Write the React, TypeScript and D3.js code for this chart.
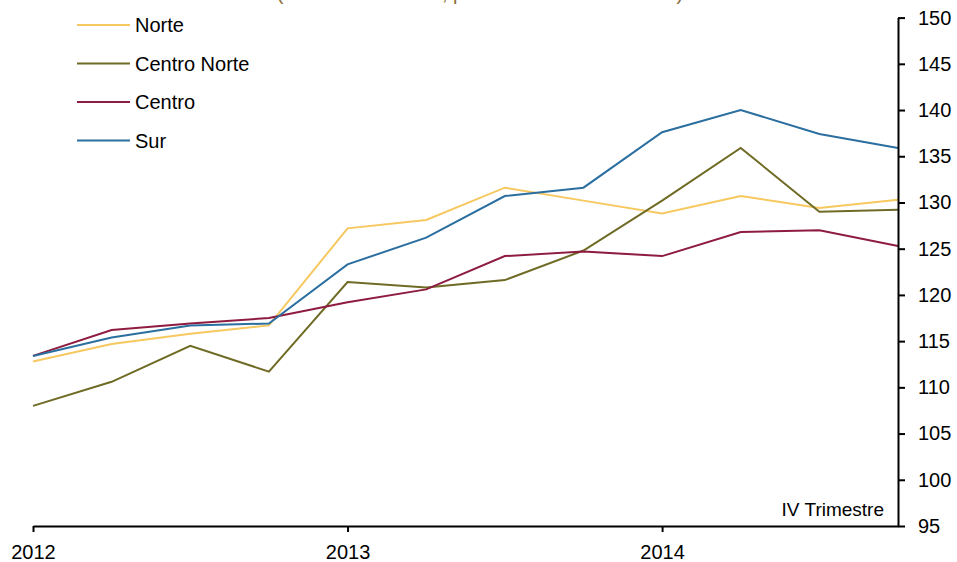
import { useEffect, useRef } from 'react';
import * as d3 from 'd3';

// quarters 2012 Q1 .. 2014 Q4
const quarters = d3.range(12);
const yearTicks = [0, 4, 8];
const yearLabels = ['2012', '2013', '2014'];
const yTicks = d3.range(95, 151, 5);

const norte = [112.8, 114.7, 115.8, 116.7, 127.2, 128.1, 131.6, 130.2, 128.8, 130.7, 129.4, 130.3];
const centroNorte = [108.0, 110.6, 114.5, 111.7, 121.4, 120.8, 121.6, 124.8, 130.2, 135.9, 129.0, 129.2];
const centro = [113.4, 116.2, 116.9, 117.5, 119.2, 120.6, 124.2, 124.7, 124.2, 126.8, 127.0, 125.3];
const sur = [113.4, 115.4, 116.7, 116.9, 123.3, 126.2, 130.7, 131.6, 137.6, 140.0, 137.4, 135.9];

const seriesNames = ['Norte', 'Centro Norte', 'Centro', 'Sur'];
const seriesColors = ['#F6C85F', '#6F6B25', '#8E1B40', '#2A6F9F'];

const FONT = 'Liberation Sans, Arial, sans-serif';

export default function App() {
  const svgRef = useRef<SVGSVGElement>(null);

  useEffect(() => {
    if (!svgRef.current) return;
    const svg = d3.select(svgRef.current);
    svg.selectAll('*').remove();

    const width = 957;
    const height = 562;

    const x = d3.scaleLinear().domain([0, 11]).range([33, 898]);
    const y = d3.scaleLinear().domain([95, 150]).range([526, 17.6]);

    // title (cut off at the top, only descenders show)
    svg.append('text')
      .attr('x', 480)
      .attr('y', -0.5)
      .attr('text-anchor', 'middle')
      .attr('font-family', FONT)
      .attr('font-size', 20)
      .attr('fill', '#8C6D3E')
      .text('(Índices 2005=100, promedio móvil trimestral)');

    const allSeries = [norte, centroNorte, centro, sur];

    const line = d3.line<number>()
      .x((_, i) => x(quarters[i]))
      .y(d => y(d));

    svg.append('g')
      .selectAll('path')
      .data(allSeries)
      .enter()
      .append('path')
      .attr('d', d => line(d))
      .attr('fill', 'none')
      .attr('stroke', (_, i) => seriesColors[i])
      .attr('stroke-width', 2);

    // right axis
    const yAxis = svg.append('g')
      .attr('transform', `translate(${x(11)},0)`)
      .call(d3.axisRight(y).tickValues(yTicks).tickSize(7).tickSizeOuter(0).tickPadding(13).tickFormat(d3.format('d')));
    yAxis.select('.domain').attr('stroke', '#000').attr('stroke-width', 2);
    yAxis.selectAll('.tick line').attr('stroke', '#000').attr('stroke-width', 2);
    yAxis.selectAll('.tick text')
      .attr('font-family', FONT)
      .attr('font-size', 20)
      .attr('fill', '#000');

    // bottom axis
    const xAxis = svg.append('g')
      .attr('transform', `translate(0,${y(95)})`)
      .call(d3.axisBottom(x).tickValues(yearTicks).tickSize(6).tickSizeOuter(0).tickPadding(13)
        .tickFormat((_, i) => yearLabels[i]));
    xAxis.select('.domain').attr('stroke', '#000').attr('stroke-width', 2);
    xAxis.selectAll('.tick line').attr('stroke', '#000').attr('stroke-width', 2);
    xAxis.selectAll('.tick text')
      .attr('font-family', FONT)
      .attr('font-size', 20)
      .attr('fill', '#000');

    svg.append('text')
      .attr('x', 884)
      .attr('y', 516)
      .attr('text-anchor', 'end')
      .attr('font-family', FONT)
      .attr('font-size', 19)
      .attr('fill', '#000')
      .text('IV Trimestre');

    // legend
    const legend = svg.append('g');
    seriesNames.forEach((name, i) => {
      const ly = 25 + i * 38.5;
      legend.append('line')
        .attr('x1', 77).attr('x2', 130)
        .attr('y1', ly).attr('y2', ly)
        .attr('stroke', seriesColors[i])
        .attr('stroke-width', 2);
      legend.append('text')
        .attr('x', 135)
        .attr('y', ly)
        .attr('dy', '0.35em')
        .attr('font-family', FONT)
        .attr('font-size', 20)
        .attr('fill', '#000')
        .text(name);
    });

    svg.attr('width', width).attr('height', height);
  }, []);

  return (
    <div style={{ position: 'absolute', left: 0, top: 0, width: 957, height: 562, background: '#fff' }}>
      <svg ref={svgRef} width={957} height={562}></svg>
    </div>
  );
}
